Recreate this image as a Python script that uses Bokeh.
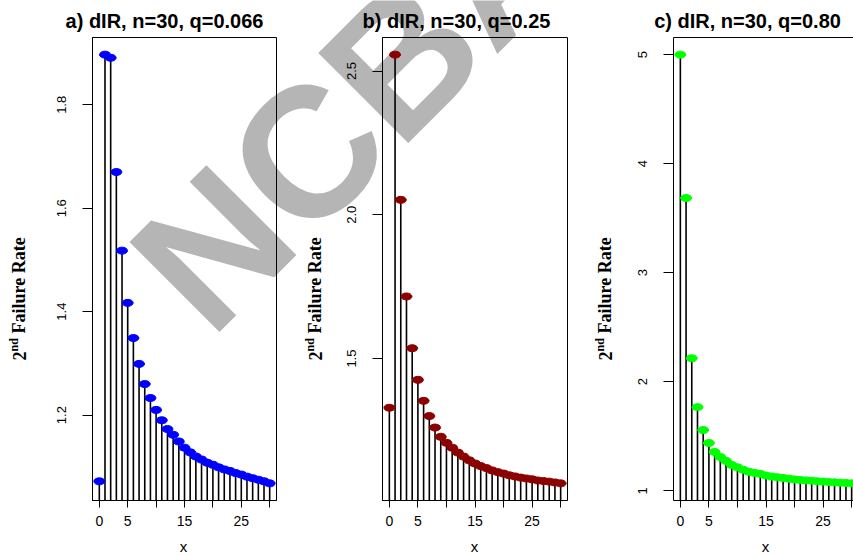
import math
from bokeh.plotting import figure
from bokeh.models import FixedTicker, Range1d, LinearAxis, PrintfTickFormatter, GridBox
from bokeh.core.properties import value
from bokeh.embed import file_html
from bokeh.resources import INLINE

# ---------------- data ----------------
x = list(range(31))
rate_a = [1.072, 1.897, 1.891, 1.670, 1.518, 1.417, 1.349, 1.299, 1.260, 1.233,
          1.210, 1.190, 1.173, 1.162, 1.149, 1.137, 1.128, 1.120, 1.114, 1.108,
          1.104, 1.099, 1.095, 1.092, 1.088, 1.085, 1.081, 1.078, 1.075, 1.072, 1.068]
rate_b = [1.329, 2.557, 2.052, 1.716, 1.536, 1.426, 1.353, 1.300, 1.260, 1.228,
          1.207, 1.190, 1.173, 1.159, 1.146, 1.135, 1.126, 1.119, 1.111, 1.105,
          1.100, 1.094, 1.090, 1.086, 1.083, 1.080, 1.076, 1.074, 1.072, 1.069, 1.066]
rate_c = [5.000, 3.685, 2.215, 1.767, 1.557, 1.438, 1.356, 1.310, 1.274, 1.237,
          1.215, 1.192, 1.174, 1.164, 1.155, 1.140, 1.130, 1.124, 1.118, 1.111,
          1.104, 1.099, 1.095, 1.092, 1.087, 1.084, 1.080, 1.077, 1.074, 1.071, 1.068]
titles = ["a) dIR, n=30, q=0.066", "b) dIR, n=30, q=0.25", "c) dIR, n=30, q=0.80"]
colors = ["#0000FF", "#8B0000", "#00FF00"]
x_ticks = [0, 5, 10, 15, 20, 25, 30]
x_hidden = {10: "", 20: "", 30: ""}
y_ticks_a = [1.2, 1.4, 1.6, 1.8]
y_ticks_b = [1.5, 2.0, 2.5]
y_ticks_c = [1, 2, 3, 4, 5]
y_formats = ["%.1f", "%.1f", "%d"]
x_label = "x"
y_label_sup = ("2", "nd")
y_label_main = "Failure Rate"
watermark = "NCBA"

# ---------------- layout (page pixels) ----------------
W, H = 853, 556
BT, BB = 37, 56
panels = [
    dict(fw=184, bl=92, br=14, tc=164, yl=25, xc=183, cut=False),
    dict(fw=185, bl=92, br=13, tc=456, yl=321, xc=474, cut=False),
    dict(fw=180, bl=93, br=0, tc=747, yl=611, xc=765, cut=True),
]
series = [rate_a, rate_b, rate_c]
yticks = [y_ticks_a, y_ticks_b, y_ticks_c]
SHIFT = 0.36  # baseline correction, in em


def r_range(vals):
    lo, hi = min(vals), max(vals)
    pad = 0.04 * (hi - lo)
    return lo - pad, hi + pad


# background page: watermark + titles + axis titles (page coordinates, y up)
bg = figure(frame_width=W, frame_height=H, output_backend="svg", toolbar_location=None,
            x_range=Range1d(0, W), y_range=Range1d(0, H), min_border=0,
            x_axis_location=None, y_axis_location=None, title_location=None,
            background_fill_color="white", border_fill_color="white")
bg.outline_line_color = None
bg.grid.visible = False


def gy(page_y):
    return H - page_y


# watermark, rotated 45 degrees (anchor corrected upward in the text frame)
wm_fs = 185
wx, wy = 212 - SHIFT * wm_fs * 0.707, 342 - SHIFT * wm_fs * 0.707
bg.text(x=[wx], y=[gy(wy)], text=[watermark], angle=math.pi / 4,
        text_font=value("Liberation Sans"), text_font_style="bold",
        text_font_size=f"{wm_fs}px", text_color="#b5b5b5", text_align="left",
        text_baseline="alphabetic")

bg.text(x=[s["tc"] for s in panels], y=[gy(28 - SHIFT * 20)] * 3, text=titles,
        text_font=value("Liberation Sans"), text_font_style="bold", text_font_size="20px",
        text_color="black", text_align="center", text_baseline="alphabetic")
bg.text(x=[s["xc"] for s in panels], y=[gy(551 - SHIFT * 15)] * 3, text=[x_label] * 3,
        text_font=value("Liberation Sans"), text_font_size="15px",
        text_color="black", text_align="center", text_baseline="alphabetic")

start = 360
ser = dict(angle=math.pi / 2, text_font=value("Liberation Serif"), text_font_style="bold",
           text_color="black", text_align="left", text_baseline="alphabetic")
bg.text(x=[s["yl"] - SHIFT * 18 for s in panels], y=[gy(start)] * 3,
        text=[y_label_sup[0]] * 3, text_font_size="18px", **ser)
bg.text(x=[s["yl"] - 7 - SHIFT * 12 for s in panels], y=[gy(start - 9)] * 3,
        text=[y_label_sup[1]] * 3, text_font_size="12px", **ser)
bg.text(x=[s["yl"] - SHIFT * 18 for s in panels], y=[gy(start - 27)] * 3,
        text=[y_label_main] * 3, text_font_size="18px", **ser)

figs = []
for spec, vals, col, yt, yf in zip(panels, series, colors, yticks, y_formats):
    x0, x1 = r_range(x)
    if spec["cut"]:
        # the reference page is cut at its right edge: same pixel scale, shorter range
        x1 = x0 + (x1 - x0) * spec["fw"] / 185.0
    y0, y1 = r_range(vals)
    p = figure(frame_width=spec["fw"], frame_height=H - BT - BB, output_backend="svg",
               toolbar_location=None, title_location=None,
               x_range=Range1d(x0, x1), y_range=Range1d(y0, y1),
               min_border_left=spec["bl"], min_border_right=spec["br"],
               min_border_top=BT, min_border_bottom=BB,
               background_fill_color=None, border_fill_color=None)
    p.xgrid.grid_line_color = None
    p.ygrid.grid_line_color = None

    p.segment(x0=x, y0=[0] * len(x), x1=x, y1=vals, line_color="black", line_width=1.6)
    p.ellipse(x=x, y=vals, width=11, height=7, width_units="screen", height_units="screen",
              fill_color=col, line_color=col)

    xa = p.below[0]
    xa.ticker = FixedTicker(ticks=x_ticks)
    xa.major_label_overrides = x_hidden
    xa.major_tick_in = 0
    xa.major_tick_out = 7
    xa.minor_tick_line_color = None
    xa.axis_line_color = "black"
    xa.major_tick_line_color = "black"
    xa.major_label_text_font = "Liberation Sans"
    xa.major_label_text_font_size = "14px"
    xa.major_label_text_color = "black"
    xa.major_label_standoff = 8

    ya = p.left[0]
    ya.ticker = FixedTicker(ticks=yt)
    ya.formatter = PrintfTickFormatter(format=yf)
    ya.major_tick_in = 0
    ya.major_tick_out = 10
    ya.minor_tick_line_color = None
    ya.axis_line_color = "black"
    ya.major_tick_line_color = "black"
    ya.major_label_orientation = "vertical"
    ya.major_label_text_font = "Liberation Sans"
    ya.major_label_text_font_size = "13px"
    ya.major_label_text_color = "black"
    ya.major_label_standoff = 16

    if spec["cut"]:
        p.outline_line_color = None
        top = LinearAxis(ticker=FixedTicker(ticks=[]), major_tick_line_color=None,
                         minor_tick_line_color=None, axis_line_color="black",
                         axis_line_width=1)
        p.add_layout(top, "above")
    else:
        p.outline_line_color = "black"
        p.outline_line_width = 1
    figs.append(p)

# the page figure spans empty edge tracks, so its frame is not aligned with the panels
layout = GridBox(children=[(bg, 0, 0, 3, 5),
                           (figs[0], 1, 1), (figs[1], 1, 2), (figs[2], 1, 3)],
                 spacing=0)
open("out.html", "w").write(file_html(layout, INLINE))
